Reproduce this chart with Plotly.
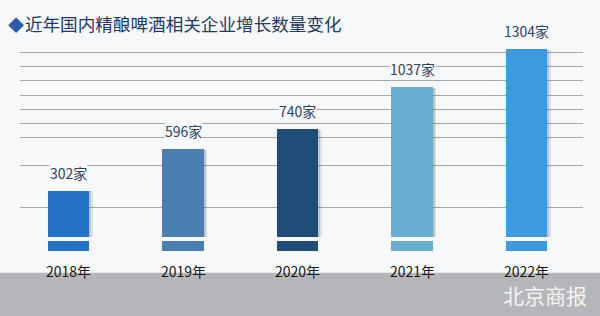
import plotly.graph_objects as go

# ---- data ----
years = ["2018年", "2019年", "2020年", "2021年", "2022年"]
counts = [302, 596, 740, 1037, 1304]
labels = ["302家", "596家", "740家", "1037家", "1304家"]
bar_colors = ["#2472c6", "#4a7fb2", "#1f4d78", "#68add0", "#3d9ade"]
grid_vals = [1280, 1180, 1080, 980, 880, 780, 680, 480, 180]
title_text = "近年国内精酿啤酒相关企业增长数量变化"
source_text = "北京商报"

# axis-break geometry (value units)
BREAK_TOP = -26
STUB_TOP = -55
STUB_BOTTOM = -123
YEAR_LABEL_Y = -264

BG = "#f7f8fa"
FONT = "Noto Sans CJK SC"
W = 0.36

fig = go.Figure()

# soft shadows
for dx, alpha in [(0.03, 0.10), (0.018, 0.16)]:
    fig.add_trace(go.Bar(
        x=years, y=[c - BREAK_TOP - 5 for c in counts], base=BREAK_TOP,
        width=W, offset=-W / 2 + dx,
        marker=dict(color=f"rgba(30,35,45,{alpha})", line=dict(width=0)),
        hoverinfo="skip", showlegend=False))
# main bars
fig.add_trace(go.Bar(
    x=years, y=[c - BREAK_TOP for c in counts], base=BREAK_TOP,
    width=W, offset=-W / 2,
    marker=dict(color=bar_colors, line=dict(width=0)),
    showlegend=False))
# lower stubs below the break
fig.add_trace(go.Bar(
    x=years, y=[STUB_TOP - STUB_BOTTOM] * len(years), base=STUB_BOTTOM,
    width=W, offset=-W / 2,
    marker=dict(color=bar_colors, line=dict(width=0)),
    hoverinfo="skip", showlegend=False))

# value labels
for yr, c, lab in zip(years, counts, labels):
    fig.add_annotation(x=yr, y=c, text=lab, showarrow=False,
                       yanchor="bottom", yshift=7, bgcolor=BG, borderpad=0,
                       font=dict(family=FONT, size=14, color="#2c4463"))
# year labels
for yr in years:
    fig.add_annotation(x=yr, y=YEAR_LABEL_Y, text=yr, showarrow=False,
                       yanchor="middle",
                       font=dict(family=FONT, size=14, color="#151515"))

# title
fig.add_annotation(xref="paper", yref="paper", x=6 / 600, y=1 - 24 / 316,
                   xanchor="left", yanchor="middle", showarrow=False,
                   text="<span style='color:#2a5caa;font-size:16px'>◆</span><span style='font-size:4px'> </span>" + title_text,
                   font=dict(family=FONT, size=17.6, color="#213a63"))
# source watermark
fig.add_annotation(xref="paper", yref="paper", x=545 / 600, y=(316 - 295) / 316,
                   xanchor="center", yanchor="middle", showarrow=False,
                   text=source_text,
                   font=dict(family=FONT, size=21, color="#f4f4f4"))

# gray band at bottom
fig.add_shape(type="rect", xref="paper", yref="paper", x0=0, x1=1,
              y0=0, y1=(316 - 272.7) / 316, fillcolor="#b4b6b9",
              line=dict(width=0), layer="below")

fig.update_layout(
    width=600, height=316,
    margin=dict(l=0, r=0, t=0, b=0),
    paper_bgcolor=BG, plot_bgcolor="rgba(0,0,0,0)",
    barmode="overlay", bargap=0,
    xaxis=dict(type="category", domain=[20 / 600, 583 / 600],
               range=[-0.4236, 4.4934], showgrid=False, showticklabels=False,
               zeroline=False, showline=False, ticks=""),
    yaxis=dict(domain=[0, 1], range=[-586, 1653.4], tickvals=grid_vals,
               showticklabels=False, showgrid=True, gridcolor="#a3a6aa",
               gridwidth=1.3, zeroline=False, showline=False, ticks=""),
)

fig.write_html("out.html")
